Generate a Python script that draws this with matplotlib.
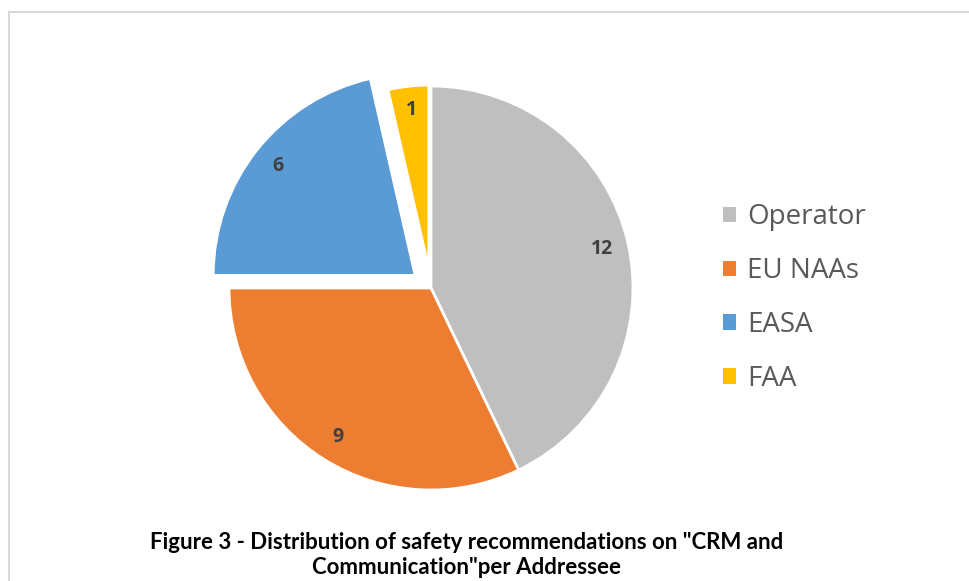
import matplotlib.pyplot as plt
import numpy as np
from matplotlib.patches import Patch, Rectangle

labels = ['Operator', 'EU NAAs', 'EASA', 'FAA']
values = [12, 9, 6, 1]
colors = ['#BFBFBF', '#ED7D31', '#5B9BD5', '#FFC000']
explode = [0, 0, 0.1, 0.095]
caption = 'Figure 3 - Distribution of safety recommendations on "CRM and\nCommunication"per Addressee'

W, H = 970, 581
fig = plt.figure(figsize=(W/100, H/100), dpi=100)

# pie centre (431, 288) px, radius 202 px
R = 202
half = 1.3*R
ax = fig.add_axes([(431-half)/W, (H-288-half)/H, 2*half/W, 2*half/H])
wedges, _ = ax.pie(values, colors=colors, startangle=90, counterclock=False,
                   explode=explode, radius=1,
                   wedgeprops=dict(edgecolor='white', linewidth=2))
wedges[3].set_radius(0.91)
ax.set_xlim(-1.3, 1.3)
ax.set_ylim(-1.3, 1.3)
ax.set_aspect('equal')
ax.axis('off')

for w, v in zip(wedges, values):
    ang = np.deg2rad((w.theta1 + w.theta2)/2)
    cx, cy = w.center
    d = 0.87*w.r
    ax.text(cx + d*np.cos(ang), cy + d*np.sin(ang), str(v), ha='center', va='center',
            fontsize=14, fontweight='bold', color='#404040', family='Open Sans')

handles = [Patch(facecolor=c, edgecolor='none') for c in colors]
fig.legend(handles, labels, loc='center left', bbox_to_anchor=(698/W, 1-298/H),
           frameon=False, handlelength=0.47, handleheight=0.47,
           handletextpad=0.4, labelspacing=0.93, labelcolor='#595959',
           prop={'family': 'Open Sans', 'size': 20})

fig.add_artist(Rectangle((9/W, -0.1), 1.5, 1 - 12/H + 0.1, transform=fig.transFigure,
                         fill=False, edgecolor='#D9D9D9', linewidth=1.5))

fig.text(467/W, 1-555/H, caption, ha='center', va='center', fontsize=16,
         fontweight='bold', color='black', family='Lato', linespacing=1.2)

fig.savefig('out.png', dpi=100, facecolor='white')
